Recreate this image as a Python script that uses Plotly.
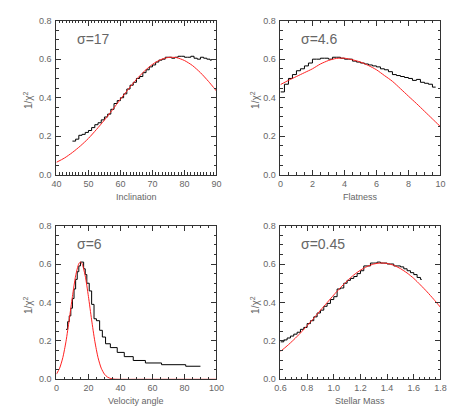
import plotly.graph_objects as go

# ---- Inclination panel
incl_fit_x = [40, 42.5, 45, 47.5, 50, 52.5, 55, 57.5, 60, 62.5, 65, 67.5, 70,
              72.5, 75, 77.5, 80, 82.5, 85, 87.5, 90]
incl_fit_y = [0.065, 0.087, 0.116, 0.150, 0.189, 0.235, 0.284, 0.337, 0.392,
              0.445, 0.495, 0.538, 0.573, 0.597, 0.609, 0.608, 0.593, 0.567,
              0.530, 0.485, 0.435]
incl_x = [45, 46, 47, 48, 49, 50, 51, 52, 53, 54, 55, 56, 57, 58, 59, 60, 61,
          62, 63, 64, 65, 66, 67, 68, 69, 70, 71, 72, 73, 74, 75, 76, 77, 78,
          79, 80, 81, 82, 83, 84, 85, 86, 87, 88, 88.5]
incl_y = [0.175, 0.185, 0.205, 0.21, 0.22, 0.23, 0.245, 0.26, 0.27, 0.285,
          0.30, 0.315, 0.34, 0.37, 0.385, 0.40, 0.42, 0.445, 0.465, 0.48, 0.50,
          0.51, 0.53, 0.545, 0.56, 0.57, 0.585, 0.595, 0.60, 0.61, 0.61, 0.605,
          0.61, 0.615, 0.615, 0.61, 0.61, 0.615, 0.605, 0.60, 0.61, 0.605,
          0.60, 0.595, 0.595]

# ---- Flatness panel
flat_fit_x = [0, 0.5, 1, 1.5, 2, 2.5, 3, 3.5, 4, 4.5, 5, 5.5, 6, 6.5, 7, 7.5,
              8, 8.5, 9, 9.5, 10]
flat_fit_y = [0.468, 0.49, 0.51, 0.53, 0.55, 0.575, 0.593, 0.604, 0.605,
              0.597, 0.585, 0.567, 0.545, 0.515, 0.485, 0.447, 0.408, 0.37,
              0.33, 0.29, 0.25]
flat_x = [0.0, 0.25, 0.5, 0.75, 1.0, 1.25, 1.5, 1.75, 2.0, 2.25, 2.5, 2.75,
          3.0, 3.25, 3.5, 3.75, 4.0, 4.25, 4.5, 4.75, 5.0, 5.25, 5.5, 5.75,
          6.0, 6.25, 6.5, 6.75, 7.0, 7.25, 7.5, 7.75, 8.0, 8.25, 8.5, 8.75,
          9.0, 9.25, 9.5, 9.7]
flat_y = [0.43, 0.47, 0.50, 0.52, 0.54, 0.55, 0.565, 0.58, 0.60, 0.60, 0.605,
          0.605, 0.60, 0.61, 0.61, 0.605, 0.60, 0.60, 0.59, 0.585, 0.58,
          0.575, 0.57, 0.565, 0.56, 0.55, 0.545, 0.535, 0.52, 0.515, 0.51,
          0.505, 0.50, 0.49, 0.495, 0.48, 0.475, 0.47, 0.455, 0.455]

# ---- Velocity angle panel
vel_fit_x = [0, 2, 4, 6, 8, 10, 12, 14, 15, 16, 18, 20, 22, 24, 26, 28, 30,
             32, 34, 36, 40, 60, 80, 100]
vel_fit_y = [0.027, 0.058, 0.113, 0.198, 0.310, 0.431, 0.538, 0.602, 0.61,
             0.602, 0.538, 0.431, 0.309, 0.198, 0.113, 0.058, 0.027, 0.011,
             0.004, 0.001, 0.0, 0.0, 0.0, 0.0]
vel_x = [6, 7, 8, 9, 10, 11, 12, 13, 14, 15, 16, 17, 18, 19, 20.5, 22, 23.5,
         25, 27, 28.7, 30.7, 33.7, 38, 42.4, 48, 55.6, 65.7, 80.8, 90]
vel_y = [0.26, 0.30, 0.33, 0.37, 0.42, 0.47, 0.52, 0.56, 0.59, 0.61, 0.61,
         0.575, 0.545, 0.50, 0.46, 0.39, 0.315, 0.305, 0.255, 0.22, 0.185,
         0.165, 0.14, 0.118, 0.098, 0.085, 0.076, 0.068, 0.068]

# ---- Stellar mass panel
mass_fit_x = [0.60, 0.65, 0.70, 0.75, 0.80, 0.85, 0.90, 0.95, 1.00, 1.05,
              1.10, 1.15, 1.20, 1.25, 1.30, 1.35, 1.40, 1.45, 1.50, 1.55,
              1.60, 1.65, 1.70, 1.75, 1.80]
mass_fit_y = [0.145, 0.174, 0.206, 0.241, 0.279, 0.318, 0.359, 0.399, 0.439,
              0.477, 0.512, 0.543, 0.568, 0.587, 0.600, 0.605, 0.603, 0.593,
              0.576, 0.553, 0.525, 0.491, 0.455, 0.416, 0.375]
mass_x = [0.600, 0.625, 0.650, 0.675, 0.700, 0.725, 0.750, 0.775, 0.800,
          0.825, 0.850, 0.875, 0.900, 0.925, 0.950, 0.975, 1.000, 1.025,
          1.050, 1.075, 1.100, 1.125, 1.150, 1.175, 1.200, 1.225, 1.250,
          1.275, 1.300, 1.325, 1.350, 1.375, 1.400, 1.425, 1.450, 1.475,
          1.500, 1.525, 1.550, 1.575, 1.600, 1.625, 1.650, 1.66]
mass_y = [0.195, 0.205, 0.215, 0.225, 0.235, 0.245, 0.26, 0.27, 0.29, 0.305,
          0.325, 0.345, 0.36, 0.38, 0.395, 0.415, 0.43, 0.47, 0.475, 0.50,
          0.515, 0.525, 0.535, 0.55, 0.565, 0.59, 0.59, 0.605, 0.605, 0.61,
          0.605, 0.605, 0.60, 0.60, 0.59, 0.59, 0.585, 0.575, 0.565, 0.555,
          0.545, 0.53, 0.52, 0.52]

panels = [
    # (fit x, fit y, data x, data y, label, sigma text, xrange, dtick, minor, fmt)
    (incl_fit_x, incl_fit_y, incl_x, incl_y, "Inclination", "σ=17", [40, 90], 10, 1, "d"),
    (flat_fit_x, flat_fit_y, flat_x, flat_y, "Flatness", "σ=4.6", [0, 10], 2, 0.5, "d"),
    (vel_fit_x, vel_fit_y, vel_x, vel_y, "Velocity angle", "σ=6", [0, 100], 20, 5, "d"),
    (mass_fit_x, mass_fit_y, mass_x, mass_y, "Stellar Mass", "σ=0.45", [0.6, 1.8], 0.2, 0.04, ".1f"),
]

W, H = 463, 417
xdoms = [[52 / W, 217 / W], [283 / W, 448 / W]]
ydoms = [[1 - 174 / H, 1 - 16 / H], [1 - 383.5 / H, 1 - 226 / H]]

AX = "#333"
TXT = "#666"
FONT = "Liberation Sans, Arial, sans-serif"

fig = go.Figure()
layout = dict(
    width=W, height=H,
    margin=dict(l=0, r=0, t=0, b=0),
    plot_bgcolor="white", paper_bgcolor="white",
    showlegend=False,
    font=dict(family=FONT, size=9, color=TXT),
)
annotations = []

for i, (fx, fy, dx, dy, label, sig, xr, dt, mn, fmt) in enumerate(panels):
    col, row = i % 2, i // 2
    n = "" if i == 0 else str(i + 1)
    xa, ya = "x" + n, "y" + n
    fig.add_trace(go.Scatter(
        x=dx, y=dy, mode="lines", line=dict(color="black", width=1, shape="hv"),
        xaxis=xa, yaxis=ya, hoverinfo="skip",
    ))
    fig.add_trace(go.Scatter(
        x=fx, y=fy, mode="lines",
        line=dict(color="#ff2020", width=1, shape="spline", smoothing=0.7),
        xaxis=xa, yaxis=ya, hoverinfo="skip",
    ))
    common = dict(
        showline=True, linecolor=AX, linewidth=1, mirror="ticks",
        ticks="inside", ticklen=5, tickcolor=AX, tickwidth=1,
        showgrid=False, zeroline=False,
        tickfont=dict(size=9, color=TXT, family=FONT),
    )
    layout["xaxis" + n] = dict(
        domain=xdoms[col], anchor=ya, range=xr, dtick=dt, tick0=xr[0],
        tickformat=fmt, ticklabelstandoff=0,
        minor=dict(dtick=mn, ticks="inside", ticklen=2.5, tickcolor=AX, showgrid=False),
        **common,
    )
    layout["yaxis" + n] = dict(
        domain=ydoms[row], anchor=xa, range=[0, 0.8], dtick=0.2,
        tickformat=".1f", ticklabelstandoff=2,
        minor=dict(dtick=0.05, ticks="inside", ticklen=2.5, tickcolor=AX, showgrid=False),
        **common,
    )
    # sigma label
    annotations.append(dict(
        xref=xa + " domain", yref=ya + " domain", x=0.115, y=0.88,
        xanchor="left", yanchor="middle", text=sig, showarrow=False,
        font=dict(size=14, color=TXT, family=FONT),
    ))
    # x title
    ycen = [197, 406][row]
    annotations.append(dict(
        xref="paper", yref="paper", x=sum(xdoms[col]) / 2, y=1 - ycen / H,
        xanchor="center", yanchor="middle", text=label, showarrow=False,
        font=dict(size=9, color=TXT, family=FONT),
    ))
    # y title
    ymid = [97, 307][row]
    xt = [22, 256][col]
    annotations.append(dict(
        xref="paper", yref="paper", x=xt / W, y=1 - ymid / H,
        xanchor="center", yanchor="middle", text="1/χ<sup>2</sup>", textangle=-90,
        showarrow=False, font=dict(size=10, color=TXT, family=FONT),
    ))

layout["annotations"] = annotations
fig.update_layout(**layout)
# drop the browser's default body margin so the figure sits at the page origin
fig.write_html("out.html", config={"displayModeBar": False},
               post_script="document.body.style.margin='0';")
